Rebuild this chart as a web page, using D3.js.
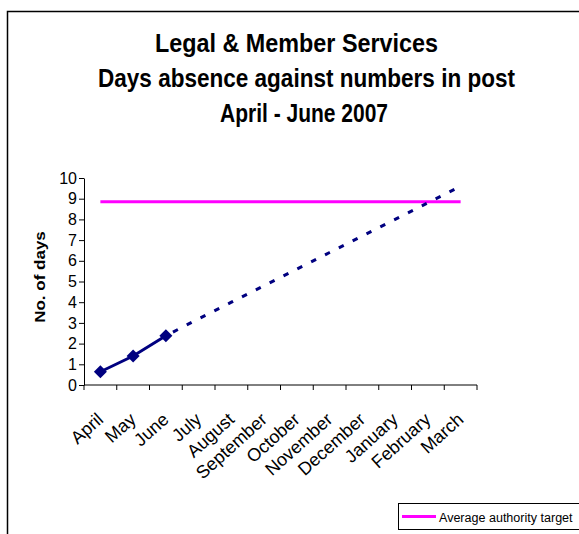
<!DOCTYPE html>
<html>
<head>
<meta charset="utf-8">
<script src="https://cdn.jsdelivr.net/npm/d3@7"></script>
<style>
  body { margin: 0; background: #fff; }
  svg { display: block; font-family: "Liberation Sans", Arial, sans-serif; }
</style>
</head>
<body>
<script>
// data
const months = ['April', 'May', 'June', 'July', 'August', 'September', 'October',
    'November', 'December', 'January', 'February', 'March'];
const actual_days = [0.64, 1.40, 2.38];
const trend_months = ['June', 'July', 'August', 'September', 'October', 'November',
    'December', 'January', 'February', 'March'];
const trend_days = [2.38, 3.2, 4.0, 4.8, 5.6, 6.4, 7.2, 8.0, 8.8, 9.6];
const target_days = 8.85;
const y_ticks = [0, 1, 2, 3, 4, 5, 6, 7, 8, 9, 10];
const title_lines = ['Legal & Member Services', 'Days absence against numbers in post', 'April - June 2007'];

const W = 579, H = 534;
// the original picture is squeezed sideways a little
const sx = 0.86;

const svg = d3.select('body').append('svg').attr('width', W).attr('height', H);

// outer chart frame (runs off the right and bottom of the picture)
svg.append('rect')
    .attr('x', 7.5).attr('y', 11.5)
    .attr('width', 600).attr('height', 600)
    .attr('fill', 'none').attr('stroke', '#000').attr('stroke-width', 1.5);

// title
const title_cx = [296.5, 306.5, 304];
const title_y = [52, 87, 122];
const title_w = [283, 417, 168];
svg.selectAll('.title')
    .data(title_lines)
    .enter()
    .append('text')
        .attr('class', 'title')
        .attr('x', (d, i) => title_cx[i])
        .attr('y', (d, i) => title_y[i])
        .attr('text-anchor', 'middle')
        .attr('textLength', (d, i) => title_w[i])
        .attr('lengthAdjust', 'spacingAndGlyphs')
        .style('font-size', '26px')
        .style('font-weight', 'bold')
        .text((d) => d);

const x = d3.scaleBand().domain(months).range([84, 477]).padding(0);
const cx = (m) => x(m) + x.bandwidth() / 2;
const y = d3.scaleLinear().domain([0, 10]).range([385, 178]);

// y axis
const y_axis = svg.append('g')
    .attr('transform', 'translate(84,0)')
    .call(d3.axisLeft(y).tickValues(y_ticks).tickSize(5).tickSizeOuter(0).tickFormat(d3.format('d')));
y_axis.selectAll('text').style('font-size', '16px').attr('x', -7).attr('fill', '#000');
y_axis.select('.domain').attr('stroke', '#000');
y_axis.selectAll('line').attr('stroke', '#000');

// x axis with ticks on category boundaries
const x_axis = svg.append('g').attr('transform', 'translate(0,385)');
x_axis.append('line')
    .attr('x1', 84).attr('x2', 477)
    .attr('stroke', '#000');
x_axis.selectAll('.xtick')
    .data(months.map((m) => x(m)).concat([477]))
    .enter()
    .append('line')
        .attr('class', 'xtick')
        .attr('x1', (d) => d).attr('x2', (d) => d)
        .attr('y1', 0).attr('y2', 5)
        .attr('stroke', '#000');
x_axis.selectAll('.xlabel')
    .data(months)
    .enter()
    .append('text')
        .attr('class', 'xlabel')
        .attr('text-anchor', 'end')
        .attr('transform', (d) => `translate(${cx(d) + 4},${36}) rotate(-42)`)
        .style('font-size', '18px')
        .text((d) => d);

// y axis title
svg.append('text')
    .attr('transform', `translate(44.5,277) scale(${sx},1) rotate(-90)`)
    .attr('text-anchor', 'middle')
    .style('font-size', '17px')
    .style('font-weight', 'bold')
    .text('No. of days');

// target line
svg.append('line')
    .attr('x1', cx('April')).attr('x2', cx('March'))
    .attr('y1', y(target_days)).attr('y2', y(target_days))
    .attr('stroke', '#FF00FF').attr('stroke-width', 3);

// trend (dotted)
const line = d3.line().x((d) => cx(d.m)).y((d) => y(d.v));
svg.append('path')
    .datum(trend_months.map((m, i) => ({ m: m, v: trend_days[i] })))
    .attr('d', line)
    .attr('fill', 'none')
    .attr('stroke', '#000080')
    .attr('stroke-width', 3)
    .attr('stroke-dasharray', '5.5,10')
    .attr('stroke-dashoffset', -8);

// actual values
const actual = actual_days.map((v, i) => ({ m: months[i], v: v }));
svg.append('path')
    .datum(actual)
    .attr('d', line)
    .attr('fill', 'none')
    .attr('stroke', '#000080')
    .attr('stroke-width', 3);
svg.selectAll('.marker')
    .data(actual)
    .enter()
    .append('path')
        .attr('class', 'marker')
        .attr('d', d3.symbol(d3.symbolSquare, 85))
        .attr('transform', (d) => `translate(${cx(d.m)},${y(d.v)}) rotate(45)`)
        .attr('fill', '#000080');

// legend
const legend = svg.append('g');
legend.append('rect')
    .attr('x', 398.5).attr('y', 503.5)
    .attr('width', 200).attr('height', 26)
    .attr('fill', '#fff').attr('stroke', '#000');
legend.append('line')
    .attr('x1', 402).attr('x2', 436)
    .attr('y1', 516.5).attr('y2', 516.5)
    .attr('stroke', '#FF00FF').attr('stroke-width', 3);
legend.append('text')
    .attr('transform', 'translate(439,521.5) scale(0.93,1)')
    .style('font-size', '13.5px')
    .text('Average authority target');
</script>
</body>
</html>
